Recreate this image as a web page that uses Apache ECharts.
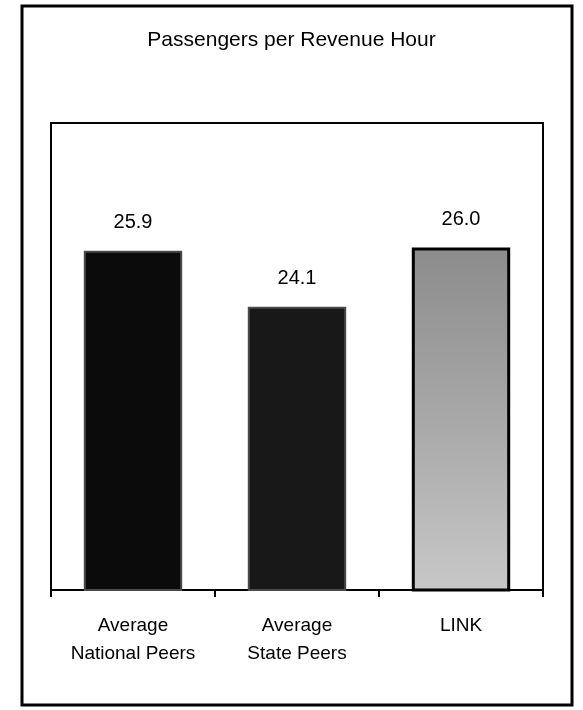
<!DOCTYPE html>
<html>
<head>
<meta charset="utf-8">
<script src="https://cdn.jsdelivr.net/npm/echarts@6/dist/echarts.min.js"></script>
<style>
html,body{margin:0;padding:0;background:#fff;}
#chart{width:583px;height:710px;}
</style>
</head>
<body>
<div id="chart"></div>
<script>
const titleText = 'Passengers per Revenue Hour';
const categories = ['Average\nNational Peers', 'Average\nState Peers', 'LINK'];
const values = [25.9, 24.1, 26.0];
const yMin = 15, yMax = 30;

const FONT = '"Liberation Sans", Arial, sans-serif';

const barStyles = [
  { color: '#0b0b0b', borderColor: '#4a4a4a', borderWidth: 2 },
  { color: '#181818', borderColor: '#4a4a4a', borderWidth: 2 },
  { color: new echarts.graphic.LinearGradient(0, 0, 0, 1, [
      { offset: 0, color: '#8c8c8c' },
      { offset: 0.5, color: '#a8a8a8' },
      { offset: 1, color: '#c8c8c8' }
    ]), borderColor: '#000', borderWidth: 3 }
];

const chart = echarts.init(document.getElementById('chart'), null, { renderer: 'canvas' });
chart.setOption({
  animation: false,
  backgroundColor: '#fff',
  title: {
    text: titleText,
    left: 'center',
    top: 25,
    textStyle: { fontFamily: FONT, fontSize: 21, fontWeight: 'normal', color: '#000' }
  },
  graphic: [{
    type: 'rect',
    shape: { x: 22, y: 6, width: 550, height: 699 },
    style: { fill: 'none', stroke: '#000', lineWidth: 3 },
    silent: true
  }],
  grid: {
    left: 51, right: 40, top: 123, bottom: 120,
    show: true, borderColor: '#000', borderWidth: 2, backgroundColor: 'transparent'
  },
  xAxis: {
    type: 'category',
    data: categories,
    axisLine: { show: true, lineStyle: { color: '#000', width: 2 } },
    axisTick: { show: true, length: 7, lineStyle: { color: '#000', width: 2 } },
    axisLabel: {
      margin: 22, fontFamily: FONT, fontSize: 19, lineHeight: 28, color: '#000'
    }
  },
  yAxis: {
    type: 'value',
    min: yMin, max: yMax, interval: 5,
    show: false,
    splitLine: { show: false }
  },
  series: [{
    type: 'bar',
    barWidth: '60%',
    data: values.map((v, i) => ({ value: v, itemStyle: barStyles[i] })),
    label: {
      show: true, position: 'top', distance: 18,
      fontFamily: FONT, fontSize: 20, color: '#000',
      formatter: p => p.value.toFixed(1)
    }
  }]
});
</script>
</body>
</html>
